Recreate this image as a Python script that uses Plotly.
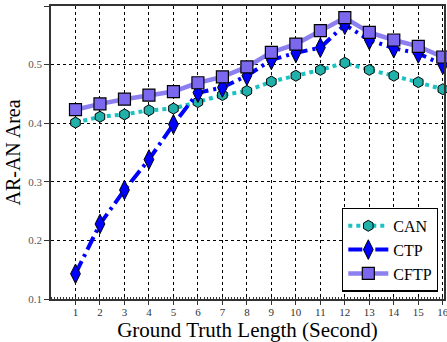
import plotly.graph_objects as go

x_vals = list(range(1, 17))
can = [0.401, 0.411, 0.415, 0.422, 0.425, 0.436, 0.448, 0.455, 0.471, 0.481, 0.491, 0.503, 0.491, 0.481, 0.470, 0.458]
ctp = [0.143, 0.228, 0.286, 0.338, 0.398, 0.452, 0.461, 0.481, 0.508, 0.520, 0.529, 0.568, 0.542, 0.528, 0.519, 0.500]
cftp = [0.423, 0.433, 0.441, 0.448, 0.454, 0.469, 0.479, 0.496, 0.521, 0.535, 0.558, 0.580, 0.555, 0.542, 0.531, 0.513]
y_ticks = [0.1, 0.2, 0.3, 0.4, 0.5, 0.6]

FONT = "Liberation Serif"

fig = go.Figure()
fig.add_trace(go.Scatter(
    x=x_vals, y=can, name="CAN", mode="lines+markers", cliponaxis=False,
    line=dict(color="#1cc2c2", width=4, dash="dot"),
    marker=dict(symbol="hexagon", size=11, color="#20b2aa", line=dict(color="black", width=1)),
))
fig.add_trace(go.Scatter(
    x=x_vals, y=ctp, name="CTP", mode="lines+markers", cliponaxis=False,
    line=dict(color="#0000ff", width=4, dash="14px,5px,3px,5px"),
    marker=dict(symbol="diamond-tall", size=14, color="#0000ff", line=dict(color="black", width=1)),
))
fig.add_trace(go.Scatter(
    x=x_vals, y=cftp, name="CFTP", mode="lines+markers", cliponaxis=False,
    line=dict(color="#8c80f0", width=4.5),
    marker=dict(symbol="square", size=12, color="#7b68ee", line=dict(color="black", width=1.2)),
))

fig.update_layout(
    width=447, height=342,
    margin=dict(l=51, r=3, t=6, b=43, autoexpand=False),
    paper_bgcolor="white", plot_bgcolor="white",
    font=dict(family=FONT, color="black"),
    showlegend=True,
    legend=dict(
        x=0.985, y=0.025, xanchor="right", yanchor="bottom",
        bgcolor="white", bordercolor="black", borderwidth=1.2,
        font=dict(family=FONT, size=16, color="black"),
        tracegroupgap=0, itemwidth=40,
    ),
)
fig.update_xaxes(
    range=[0, 16.05], tickvals=x_vals, ticktext=[str(v) for v in x_vals],
    showgrid=True, gridcolor="black", griddash="dot", gridwidth=1,
    showline=True, linecolor="#333", linewidth=1.5, mirror=True,
    ticks="outside", ticklen=4, tickcolor="#333",
    tickfont=dict(family=FONT, size=11, color="#333"),
    ticklabeloverflow="allow", ticklabelstandoff=-2,
    minor=dict(dtick=0.125, ticks="inside", ticklen=2, tickcolor="#333", showgrid=False),
    title=dict(text="Ground Truth Length (Second)", font=dict(family=FONT, size=21, color="black"), standoff=4),
    zeroline=False, automargin=False,
)
fig.update_yaxes(
    range=[0.1, 0.6], tickvals=y_ticks, ticktext=[f"{v:.1f}" for v in y_ticks],
    showgrid=True, gridcolor="black", griddash="dot", gridwidth=1,
    showline=True, linecolor="#333", linewidth=1.5, mirror=True,
    ticks="outside", ticklen=5, tickcolor="#333",
    tickfont=dict(family=FONT, size=11, color="#555"),
    title=dict(text="AR-AN Area", font=dict(family=FONT, size=20, color="black"), standoff=2),
    zeroline=False, automargin=False,
)

fig.write_html(
    "out.html",
    config={"displayModeBar": False},
    post_script="document.body.style.margin='0';document.body.style.overflow='hidden';",
)
